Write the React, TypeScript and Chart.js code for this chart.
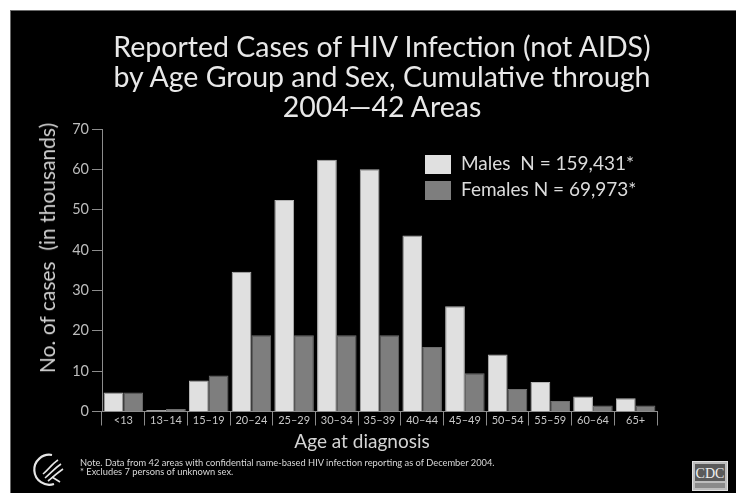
import React, { useEffect, useRef } from "react";
import { Chart, registerables } from "chart.js";

Chart.register(...registerables);

// Reported HIV (not AIDS) cases, thousands, by age group at diagnosis
const ageGroups = ["<13", "13–14", "15–19", "20–24", "25–29", "30–34", "35–39", "40–44", "45–49", "50–54", "55–59", "60–64", "65+"];
const malesThousands = [4.7, 0.4, 7.7, 34.6, 52.4, 62.4, 60.0, 43.6, 26.1, 14.1, 7.3, 3.7, 3.3];
const femalesThousands = [4.7, 0.6, 8.9, 18.9, 18.9, 18.9, 18.9, 16.0, 9.5, 5.6, 2.6, 1.5, 1.5];
const seriesLabels = ["Males  N = 159,431*", "Females N = 69,973*"];
const seriesColors = ["#e0e0e0", "#7e7e7e"];
const yTickValues = [0, 10, 20, 30, 40, 50, 60, 70];

const titleLines = [
  "Reported Cases of HIV Infection (not AIDS)",
  "by Age Group and Sex, Cumulative through",
  "2004—42 Areas",
];
const yAxisTitle = "No. of cases  (in thousands)";
const xAxisTitle = "Age at diagnosis";
const footnotes = [
  "Note. Data from 42 areas with confidential name-based HIV infection reporting as of December 2004.",
  "* Excludes 7 persons of unknown sex.",
];

const FONT = "Lato, 'Open Sans', sans-serif";
const W = 736;
const H = 493;

export default function App() {
  const canvasRef = useRef<HTMLCanvasElement | null>(null);

  useEffect(() => {
    document.body.style.margin = "0";
    const canvas = canvasRef.current;
    if (!canvas) return;
    const chart = new Chart(canvas, {
      type: "bar",
      data: {
        labels: ageGroups,
        datasets: [
          {
            label: seriesLabels[0],
            data: malesThousands,
            backgroundColor: seriesColors[0],
            borderColor: "#b4b4b4",
            borderWidth: 1,
            categoryPercentage: 0.925,
            barPercentage: 1,
          },
          {
            label: seriesLabels[1],
            data: femalesThousands,
            backgroundColor: seriesColors[1],
            borderColor: "#6e6e6e",
            borderWidth: 1,
            categoryPercentage: 0.925,
            barPercentage: 1,
          },
        ],
      },
      options: {
        animation: false,
        responsive: false,
        maintainAspectRatio: false,
        layout: { padding: { top: 129, right: 79, bottom: 0, left: 0 } },
        plugins: {
          legend: { display: false },
          title: { display: false },
          tooltip: { enabled: false },
        },
        scales: {
          x: {
            grid: {
              display: true,
              drawOnChartArea: false,
              drawTicks: true,
              tickLength: 14,
              color: "#8c8c8c",
              offset: true,
            },
            border: { color: "#8c8c8c", width: 1 },
            ticks: {
              color: "#c8c8c8",
              font: { family: FONT, size: 11 },
              padding: -12,
              maxRotation: 0,
              autoSkip: false,
            },
            afterFit: (scale: any) => {
              scale.height = H - 411.5;
            },
          },
          y: {
            min: 0,
            max: 70,
            afterBuildTicks: (scale: any) => {
              scale.ticks = yTickValues.map((v) => ({ value: v }));
            },
            ticks: {
              color: "#bdbdbd",
              font: { family: FONT, size: 14.5 },
              padding: 3,
            },
            grid: {
              drawOnChartArea: false,
              drawTicks: true,
              tickLength: 10,
              color: "#8c8c8c",
            },
            border: { color: "#8c8c8c", width: 1 },
            afterFit: (scale: any) => {
              scale.width = 102;
            },
          },
        },
      },
    });
    return () => chart.destroy();
  }, []);

  return (
    <div style={{ position: "fixed", left: 0, top: 0, width: W, height: H, background: "#ffffff", overflow: "hidden" }}>
      <div
        style={{
          position: "absolute",
          left: 10,
          top: 10,
          width: W - 10,
          height: H - 10,
          background: "#000000",
          borderTop: "1px solid #6a6a6a",
          borderLeft: "1px solid #6a6a6a",
          boxSizing: "border-box",
        }}
      />
      <canvas ref={canvasRef} width={W} height={H} style={{ position: "absolute", left: 0, top: 0, width: W, height: H }} />

      <div
        style={{
          position: "absolute",
          left: 382,
          top: 31,
          transform: "translateX(-50%)",
          whiteSpace: "nowrap",
          textAlign: "center",
          color: "#e8e8e8",
          fontFamily: FONT,
          fontSize: 28.5,
          lineHeight: "30px",
        }}
      >
        {titleLines.map((t) => (
          <div key={t}>{t}</div>
        ))}
      </div>

      <div
        style={{
          position: "absolute",
          left: 47,
          top: 248,
          transform: "translate(-50%, -50%) rotate(-90deg)",
          whiteSpace: "pre",
          color: "#d0d0d0",
          fontFamily: FONT,
          fontSize: 21,
          lineHeight: "24px",
        }}
      >
        {yAxisTitle}
      </div>

      <div
        style={{
          position: "absolute",
          left: 362,
          top: 441,
          transform: "translate(-50%, -50%)",
          whiteSpace: "pre",
          color: "#d4d4d4",
          fontFamily: FONT,
          fontSize: 19,
          lineHeight: "22px",
        }}
      >
        {xAxisTitle}
      </div>

      {seriesLabels.map((label, i) => (
        <React.Fragment key={label}>
          <div
            style={{
              position: "absolute",
              left: 425,
              top: 155 + i * 26,
              width: 26,
              height: 19,
              background: seriesColors[i],
            }}
          />
          <div
            style={{
              position: "absolute",
              left: 461,
              top: 153 + i * 26,
              whiteSpace: "pre",
              color: "#dcdcdc",
              fontFamily: FONT,
              fontSize: 19,
              lineHeight: "19px",
            }}
          >
            {label}
          </div>
        </React.Fragment>
      ))}

      <div
        style={{
          position: "absolute",
          left: 80,
          top: 459,
          color: "#d8d8d8",
          fontFamily: FONT,
          fontSize: 9.3,
          lineHeight: "8.5px",
          whiteSpace: "nowrap",
        }}
      >
        {footnotes.map((t) => (
          <div key={t}>{t}</div>
        ))}
      </div>

      <svg style={{ position: "absolute", left: 30, top: 450 }} width={40} height={40} viewBox="0 0 40 40">
        <path d="M22 5 A15 15 0 1 0 24 34" fill="none" stroke="#e6e6e6" strokeWidth={2.2} />
        <path d="M13 24 C18 20 22 14 28 10" fill="none" stroke="#e6e6e6" strokeWidth={1.6} />
        <path d="M15 28 C20 24 25 18 31 14" fill="none" stroke="#e6e6e6" strokeWidth={1.6} />
        <path d="M18 31 C22 28 27 23 33 19" fill="none" stroke="#e6e6e6" strokeWidth={1.6} />
        <path d="M22 27 L30 32" fill="none" stroke="#e6e6e6" strokeWidth={1.6} />
      </svg>

      <svg style={{ position: "absolute", left: 692, top: 461 }} width={36} height={30} viewBox="0 0 36 30">
        <rect x={0.5} y={0.5} width={35} height={29} fill="#bdbdbd" stroke="#e0e0e0" />
        <rect x={3} y={3} width={30} height={17} fill="#5a5a5a" />
        <text x={18} y={17} textAnchor="middle" fill="#f0f0f0" fontFamily="'Liberation Serif', serif" fontSize={14}>
          CDC
        </text>
        <rect x={3} y={22} width={30} height={5} fill="#8a8a8a" />
      </svg>
    </div>
  );
}
